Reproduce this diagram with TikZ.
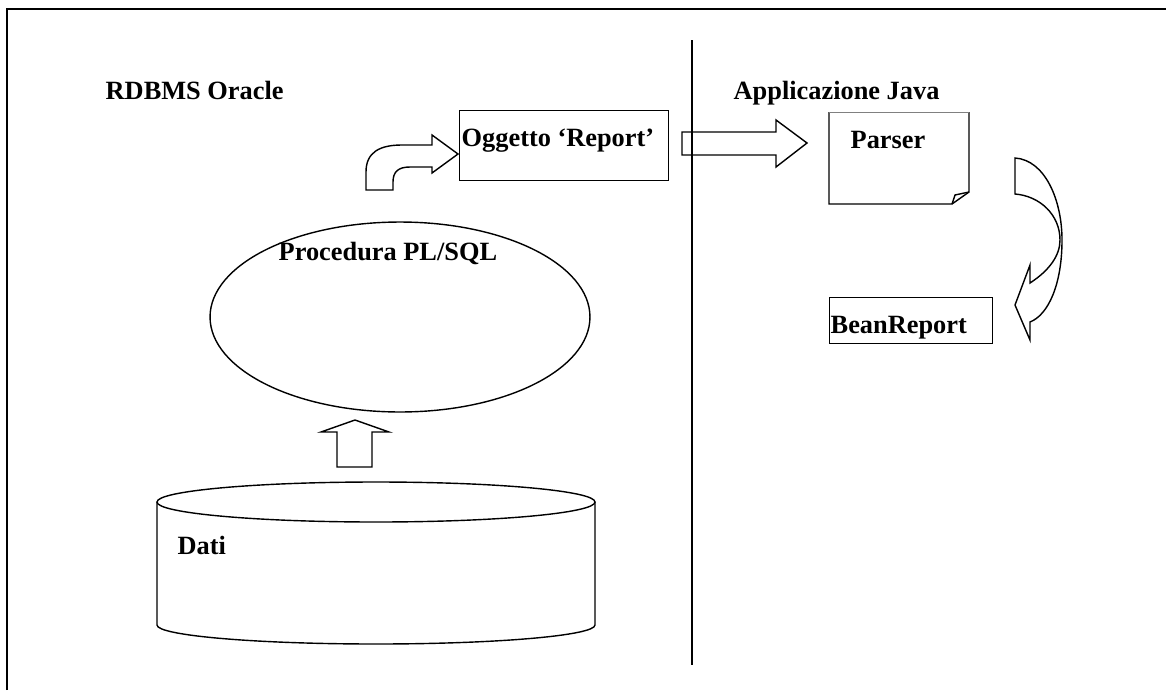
\documentclass[tikz,border=0pt]{standalone}
\usepackage{fontspec}
\setmainfont{Liberation Serif}
\usetikzlibrary{shapes.geometric}

\begin{document}
\begin{tikzpicture}
      [
        x=0.02cm, y=-0.02cm, line width=0.8pt,
        every node/.style={inner sep=0pt, font=\fontsize{15}{18}\selectfont\bfseries},
        lbl/.style={anchor=base west},
        box/.style={draw, anchor=north west},
        blockarrow/.style={draw, line join=miter}
      ]
      \useasboundingbox (0,0) rectangle (1166,690);
      % frame and divider
      \draw[line width=1.2pt] (7,690) -- (7,9) -- (1166,9);
      \draw (692,40) -- (692,665);
      \node[lbl] (oracle) at (105,99) {RDBMS Oracle};
      \node[lbl] (java) at (733,99) {Applicazione Java};

      % left side
      \node[box, minimum width=4.18cm, minimum height=1.4cm] (report) at (459,110) {};
      \node[lbl] (reportlbl) at (461,146) {Oggetto `Report'};
      \node[draw, ellipse, minimum width=7.6cm, minimum height=3.8cm] (proc) at (400,317) {};
      \node[lbl] (proclbl) at (278,260) {Procedura PL/SQL};
      \draw (376,502) ellipse [x radius=219, y radius=20];
      \draw (157,502) -- (157,625) arc[start angle=180, end angle=0, x radius=219, y radius=19] -- (595,502);
      \node[lbl] (dati) at (177,554) {Dati};

      % right side
      \draw (829,112) -- (829,204) -- (952,204) -- (969,192) -- (969,112);
      \draw[gray, line width=0.4pt] (829,112) -- (969,112);
      \draw (952,204) -- (955,195) -- (969,192);
      \coordinate (parser) at (829,112);
      \node[lbl] (parserlbl) at (850,148) {Parser};
      \node[box, minimum width=3.26cm, minimum height=0.92cm] (bean) at (829,297) {};
      \node[lbl] (beanlbl) at (830,333) {BeanReport};

      % block arrows
      \draw[blockarrow] (337,467) -- (337,432) -- (321,432) -- (355,420) -- (389,432)
        -- (372,432) -- (372,467) -- cycle;
      \draw[blockarrow] (366,190) -- (366,172) .. controls (366,152) and (380,145) .. (402,145)
        -- (432,145) -- (432,135) -- (458,154) -- (432,173) -- (432,167) -- (410,167)
        .. controls (398,167) and (393,172) .. (393,182) -- (393,190) -- cycle;
      \draw[blockarrow] (682,132) -- (776,132) -- (776,120) -- (807,143) -- (776,167)
        -- (776,155) -- (682,155) -- cycle;
      \draw[blockarrow] (1015,158) .. controls (1045,160) and (1062,200) .. (1062,240)
        .. controls (1062,285) and (1048,315) .. (1030,322) -- (1030,340) -- (1015,305)
        -- (1030,265) -- (1030,283) .. controls (1050,270) and (1060,255) .. (1060,240)
        .. controls (1060,215) and (1040,196) .. (1015,194) -- cycle;
\end{tikzpicture}
\end{document}
